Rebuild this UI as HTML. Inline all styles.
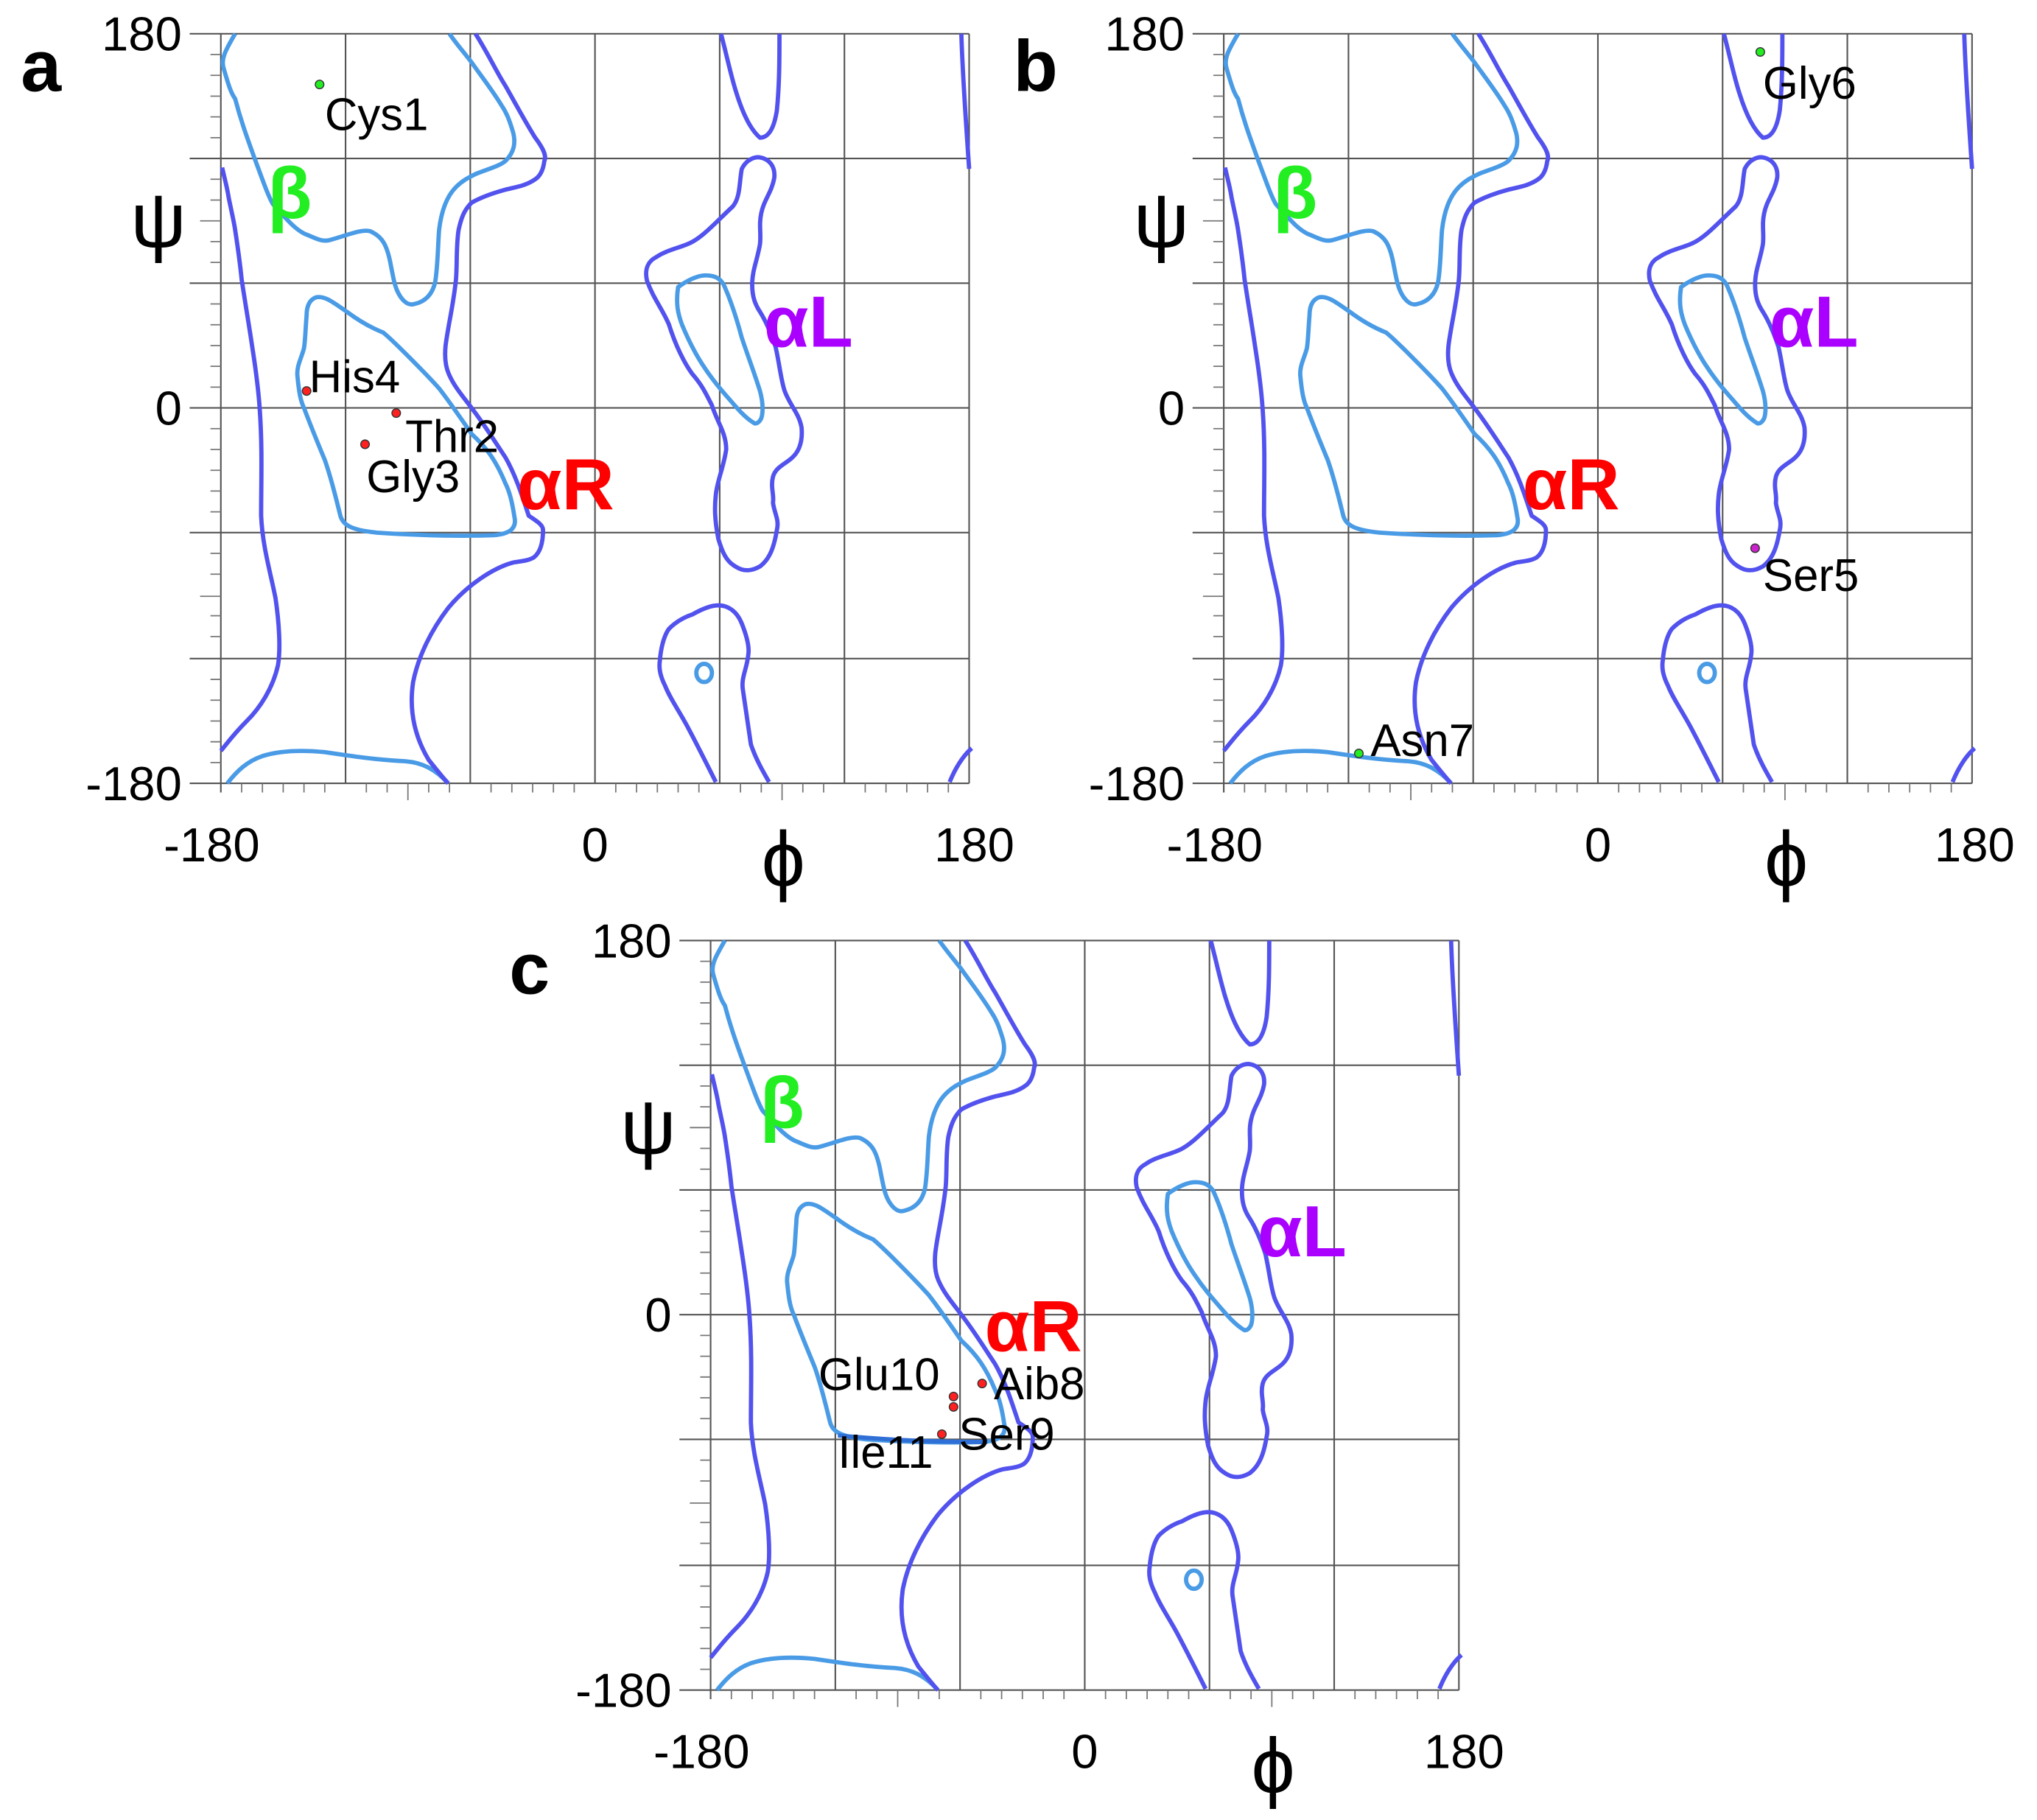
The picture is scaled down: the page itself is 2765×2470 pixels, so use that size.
<!DOCTYPE html>
<html><head><meta charset="utf-8"><style>
html,body{margin:0;padding:0;background:#fff;}
svg{display:block;}
text{font-family:"Liberation Sans",sans-serif;}
</style></head><body>
<svg width="2765" height="2470" viewBox="0 0 1568 1401" preserveAspectRatio="none" xmlns="http://www.w3.org/2000/svg">
<defs>
<g id="p">
  <g stroke="#555" stroke-width="1.2" fill="none">
    <path d="M146 26H746M146 122H746M146 218H746M146 314H746M146 410H746M146 507H746M146 603H746"/>
    <path d="M170 26V610M266 26V603M362 26V603M458 26V603M554 26V603M650 26V603M746 26V603"/>
  </g>
  <g stroke="#777" stroke-width="1">
    <path d="M162 42H170M162 58H170M162 74H170M162 90H170M162 106H170M162 138H170M162 154H170M162 186H170M162 202H170M162 234H170M162 250H170M162 266H170M162 282H170M162 298H170M162 330H170M162 346H170M162 362H170M162 378H170M162 394H170M162 426H170M162 442H170M162 474H170M162 490H170M162 523H170M162 539H170M162 555H170M162 571H170M162 587H170M154 170H170M154 459H170"/>
    <path d="M186 603V610M202 603V610M218 603V610M234 603V610M250 603V610M282 603V610M298 603V610M314 603V616M330 603V610M346 603V610M378 603V610M394 603V610M410 603V610M426 603V610M442 603V610M474 603V610M490 603V610M506 603V610M522 603V610M538 603V610M570 603V610M586 603V610M602 603V616M618 603V610M634 603V610M666 603V610M682 603V610M698 603V610M714 603V610M730 603V610"/>
  </g>
  <g stroke="#4a9be6" stroke-width="3.3" fill="none" stroke-linejoin="round">
    <path d="M181 26 C174 38 170 45 172 52 C176 66 178 72 181 76 C186 95 191 108 196 122 C202 138 206 150 210 157 C220 168 228 178 237 181 C244 184 248 186 253 185 C265 182 278 176 285 178 C294 182 298 188 301 205 C303 215 304 222 308 228 C312 234 316 235 319 234 C328 232 333 226 335 217 C337 205 337 190 338 177 C340 160 345 150 351 144 C356 139 360 137 366 134 C376 130 384 128 389 124 C396 117 397 110 395 102 C392 92 390 87 386 81 C378 68 370 58 363 48 C356 39 350 32 346 26"/>
    <path d="M243 229 C238 231 236 236 236 243 C235 255 235 262 234 268 C232 276 228 282 229 290 C230 300 231 308 234 314 C240 330 245 342 250 354 C255 368 259 385 262 397 C264 404 270 408 290 410 C320 412 350 413 380 412 C392 411 398 407 396 398 C394 385 392 378 389 372 C382 355 375 345 363 334 C352 318 345 308 338 299 C330 290 320 280 313 273 C306 266 300 260 295 256 C285 252 275 246 267 240 C258 234 250 227 243 229 Z"/>
    <path d="M522 221 C530 215 538 212 543 212 C550 212 554 214 557 219 C562 230 567 245 571 260 C576 275 581 288 585 301 C588 312 587 319 586 322 C584 326 582 326 581 326 C574 322 568 315 562 308 C555 300 549 293 543 284 C536 274 530 262 525 250 C522 242 520 234 522 221 Z"/>
    <path d="M175 603 C182 594 190 586 202 582 C215 578 230 577 250 579 C270 582 290 585 312 586 C325 587 335 592 345 603"/>
    <ellipse cx="542" cy="518" rx="6" ry="7"/>
  </g>
  <g stroke="#5252ee" stroke-width="3.3" fill="none" stroke-linejoin="round">
    <path d="M171 129 C173 138 175 145 176 152 C178 162 180 170 181 177 C183 190 185 205 186 215 C189 235 192 252 194 266 C197 285 199 300 200 316 C202 345 201 370 201 397 C202 420 208 440 212 460 C215 480 216 500 214 512 C210 530 200 545 190 555 C180 565 175 572 170 578"/>
    <path d="M366 26 C375 40 382 55 389 66 C397 80 405 95 412 106 C418 114 421 120 419 124 C418 132 415 136 412 138 C405 143 397 144 389 146 C378 149 370 152 363 156 C357 162 355 168 353 177 C351 190 352 203 351 215 C349 235 345 250 343 266 C342 276 343 283 346 289 C350 298 357 306 363 314 C373 327 381 340 389 352 C397 366 402 382 407 397 C413 401 418 404 418 408 C418 418 416 425 411 429 C406 432 400 432 395 433 C380 437 360 450 345 468 C332 485 322 505 318 525 C315 545 318 565 330 585 C338 595 342 600 345 603"/>
    <path d="M555 26 C560 45 563 60 567 72 C572 88 578 100 585 106 C592 106 596 98 598 85 C600 65 600 45 600 26"/>
    <path d="M740 26 C741 60 744 100 746 130"/>
    <path d="M584 121 C592 122 597 128 596 137 C594 148 588 154 586 164 C584 173 586 180 585 188 C583 200 579 208 579 219 C579 228 581 234 585 240 C590 248 594 258 597 267 C600 280 601 292 604 301 C608 312 615 318 617 329 C618 340 615 348 609 353 C603 358 597 360 595 367 C593 375 596 381 595 387 C596 395 600 400 598 408 C596 420 593 430 585 436 C578 440 572 440 566 436 C559 432 556 425 553 415 C550 400 550 390 551 381 C552 370 557 360 559 346 C559 333 552 325 548 312 C543 302 540 296 533 288 C527 280 520 266 515 250 C510 238 503 230 498 216 C496 207 499 201 505 198 C512 193 522 191 529 188 C540 184 552 170 564 159 C570 152 569 140 571 130 C574 124 579 121 584 121 Z"/>
    <path d="M551 602 C545 590 537 574 529 559 C522 546 516 538 512 528 C508 520 507 514 508 508 C509 496 512 488 515 484 C521 478 527 475 533 473 C540 469 547 466 553 466 C560 466 567 470 571 480 C575 490 577 498 576 504 C575 515 570 522 572 532 C574 545 576 560 578 573 C582 585 588 595 592 602"/>
    <path d="M731 602 C735 592 741 582 748 576"/>
  </g>
</g>
</defs>

<use href="#p"/>
<use href="#p" transform="translate(772,0)"/>
<use href="#p" transform="translate(377,698)"/>
<path d="M645 1105 C680 1108 710 1110 760 1110" stroke="#2f6fd6" stroke-width="3.3" fill="none"/>

<g font-size="37" fill="#000">
  <text x="140" y="39" text-anchor="end">180</text>
  <text x="140" y="327" text-anchor="end">0</text>
  <text x="140" y="616" text-anchor="end">-180</text>
  <text x="163" y="663" text-anchor="middle">-180</text>
  <text x="458" y="663" text-anchor="middle">0</text>
  <text x="750" y="663" text-anchor="middle">180</text>
  <text x="912" y="39" text-anchor="end">180</text>
  <text x="912" y="327" text-anchor="end">0</text>
  <text x="912" y="616" text-anchor="end">-180</text>
  <text x="935" y="663" text-anchor="middle">-180</text>
  <text x="1230" y="663" text-anchor="middle">0</text>
  <text x="1520" y="663" text-anchor="middle">180</text>
  <text x="517" y="737" text-anchor="end">180</text>
  <text x="517" y="1025" text-anchor="end">0</text>
  <text x="517" y="1314" text-anchor="end">-180</text>
  <text x="540" y="1361" text-anchor="middle">-180</text>
  <text x="835" y="1361" text-anchor="middle">0</text>
  <text x="1127" y="1361" text-anchor="middle">180</text>
</g>
<g font-size="60" fill="#000" text-anchor="middle">
  <text x="122" y="190">ψ</text><text x="603" y="682">ϕ</text>
  <text x="894" y="190">ψ</text><text x="1375" y="682">ϕ</text>
  <text x="499" y="888">ψ</text><text x="980" y="1380">ϕ</text>
</g>
<g font-size="56" font-weight="bold" fill="#000">
  <text x="16" y="70">a</text>
  <text x="780" y="70">b</text>
  <text x="392" y="765">c</text>
</g>
<g font-size="56" font-weight="bold">
  <text x="206" y="168" fill="#22ee22">β</text>
  <text x="588" y="267" fill="#aa00ff">αL</text>
  <text x="398" y="392" fill="#ff0000">αR</text>
  <text x="980" y="168" fill="#22ee22">β</text>
  <text x="1362" y="267" fill="#aa00ff">αL</text>
  <text x="1172" y="392" fill="#ff0000">αR</text>
  <text x="585" y="868" fill="#22ee22">β</text>
  <text x="968" y="967" fill="#aa00ff">αL</text>
  <text x="758" y="1040" fill="#ff0000">αR</text>
</g>
<g stroke="#333" stroke-width="0.8">
  <circle cx="246" cy="65" r="3.3" fill="#22ee22"/>
  <circle cx="236" cy="301" r="3.3" fill="#ff2020"/>
  <circle cx="305" cy="318" r="3.3" fill="#ff2020"/>
  <circle cx="281" cy="342" r="3.3" fill="#ff2020"/>
  <circle cx="1355" cy="40" r="3.3" fill="#22ee22"/>
  <circle cx="1351" cy="422" r="3.3" fill="#cc22cc"/>
  <circle cx="1046" cy="580" r="3.3" fill="#22ee22"/>
  <circle cx="756" cy="1065" r="3.3" fill="#ff2020"/>
  <circle cx="734" cy="1075" r="3.3" fill="#ff2020"/>
  <circle cx="734" cy="1083" r="3.3" fill="#ff2020"/>
  <circle cx="725" cy="1104" r="3.3" fill="#ff2020"/>
</g>
<g font-size="35" fill="#000">
  <text x="250" y="100">Cys1</text>
  <text x="238" y="302">His4</text>
  <text x="312" y="348">Thr2</text>
  <text x="282" y="379">Gly3</text>
  <text x="1357" y="76">Gly6</text>
  <text x="1357" y="455">Ser5</text>
  <text x="1055" y="582">Asn7</text>
  <text x="765" y="1077">Aib8</text>
  <text x="630" y="1070">Glu10</text>
  <text x="738" y="1116">Ser9</text>
  <text x="645" y="1130">Ile11</text>
</g>
</svg>
</body></html>
